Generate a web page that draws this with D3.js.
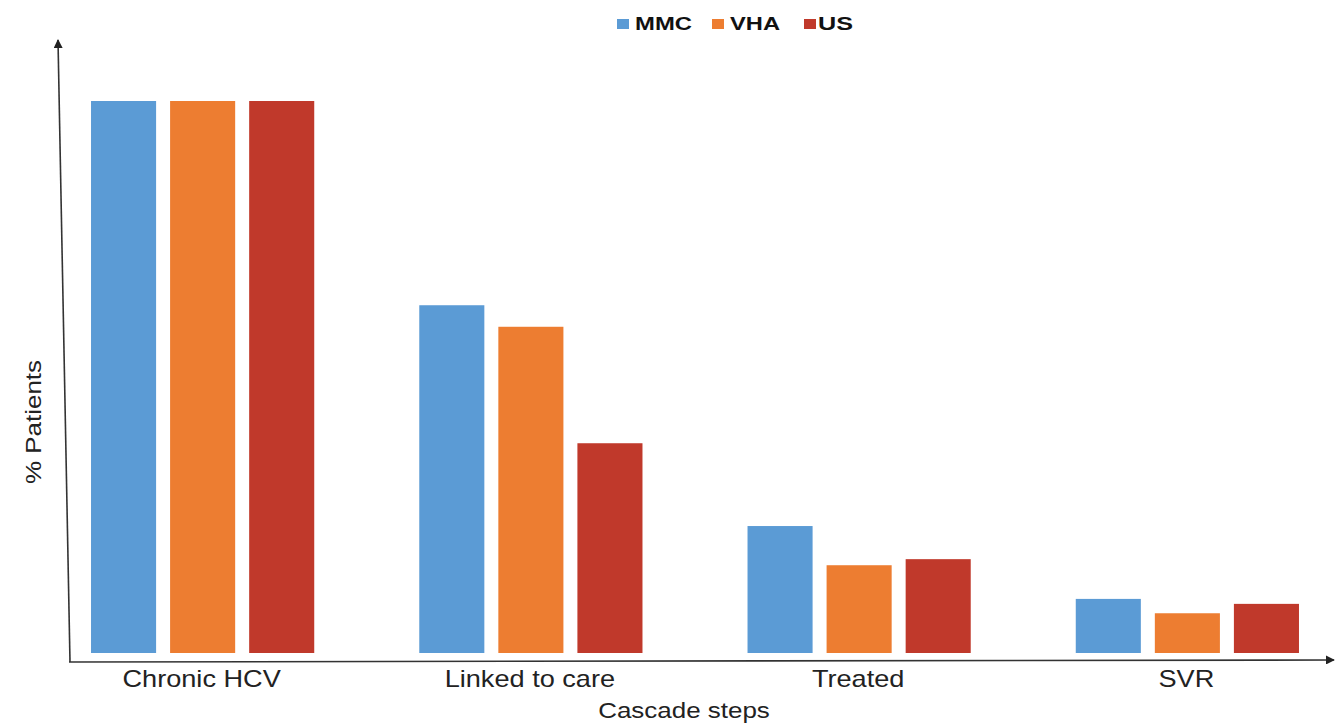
<!DOCTYPE html>
<html><head><meta charset="utf-8">
<script src="https://cdn.jsdelivr.net/npm/d3@7"></script>
<style>body{margin:0;background:#fff}svg{display:block}</style>
</head><body>
<svg id="c" width="1335" height="723"></svg>
<script>
const categories = ["Chronic HCV", "Linked to care", "Treated", "SVR"];
const seriesNames = ["MMC", "VHA", "US"];
const MMC = [100, 63.0, 23.0, 9.8];
const VHA = [100, 59.1, 15.9, 7.2];
const US  = [100, 38.0, 17.0, 8.9];
const colors = ["#5B9BD5", "#ED7D31", "#C0392B"];

const values = [MMC, VHA, US];
const svg = d3.select("#c");
const font = "Liberation Sans, Arial, sans-serif";
const stretch = 1.18;

const x0 = d3.scaleBand().domain(categories).range([58.2, 1331.8]).paddingInner(0.32).paddingOuter(0.1);
const x1 = d3.scaleBand().domain(seriesNames).range([0, x0.bandwidth()]).paddingInner(0.177).paddingOuter(0);
const y = d3.scaleLinear().domain([0, 100]).range([653, 101]);

// bars
categories.forEach((c, i) => {
  const g = svg.append("g").attr("transform", `translate(${x0(c)},0)`);
  seriesNames.forEach((s, j) => {
    g.append("rect")
      .attr("x", x1(s)).attr("y", y(values[j][i]))
      .attr("width", x1.bandwidth()).attr("height", y(0) - y(values[j][i]))
      .attr("fill", colors[j]);
  });
});

// arrow marker
const defs = svg.append("defs");
defs.append("marker").attr("id", "arr").attr("viewBox", "0 0 10 10").attr("refX", 9).attr("refY", 5)
  .attr("markerWidth", 9).attr("markerHeight", 9).attr("markerUnits", "userSpaceOnUse").attr("orient", "auto")
  .append("path").attr("d", "M0,0 L10,5 L0,10 z").attr("fill", "#222");

// axes
svg.append("line").attr("x1", 70).attr("y1", 662).attr("x2", 58).attr("y2", 40)
  .attr("stroke", "#333").attr("stroke-width", 1.6).attr("marker-end", "url(#arr)");
svg.append("line").attr("x1", 69).attr("y1", 662).attr("x2", 1334).attr("y2", 660)
  .attr("stroke", "#333").attr("stroke-width", 1.6).attr("marker-end", "url(#arr)");

// category labels
svg.selectAll("text.cat").data(categories).join("text").attr("class", "cat")
  .attr("transform", d => `translate(${x0(d) + x0.bandwidth() / 2 - 1},687) scale(${stretch},1)`)
  .attr("text-anchor", "middle").attr("font-family", font).attr("font-size", 23).attr("fill", "#222")
  .text(d => d);

svg.append("text").attr("transform", `translate(684,718) scale(${stretch},1)`).attr("text-anchor", "middle")
  .attr("font-family", font).attr("font-size", 22).attr("fill", "#222").text("Cascade steps");

svg.append("text").attr("transform", `translate(41,422) rotate(-90) scale(${stretch},1)`).attr("text-anchor", "middle")
  .attr("font-family", font).attr("font-size", 22).attr("fill", "#222").text("% Patients");

// legend
const legX = [617, 712, 804];
const legW = [57, 50, 35];
const lg = svg.append("g");
seriesNames.forEach((s, j) => {
  lg.append("rect").attr("x", legX[j]).attr("y", 19).attr("width", 12).attr("height", 10).attr("fill", colors[j]);
  lg.append("text").attr("x", legX[j] + (j === 2 ? 14 : 18)).attr("y", 30).attr("font-family", font).attr("font-weight", "bold")
    .attr("font-size", 18).attr("fill", "#111")
    .attr("textLength", legW[j]).attr("lengthAdjust", "spacingAndGlyphs").text(s);
});
</script>
</body></html>
